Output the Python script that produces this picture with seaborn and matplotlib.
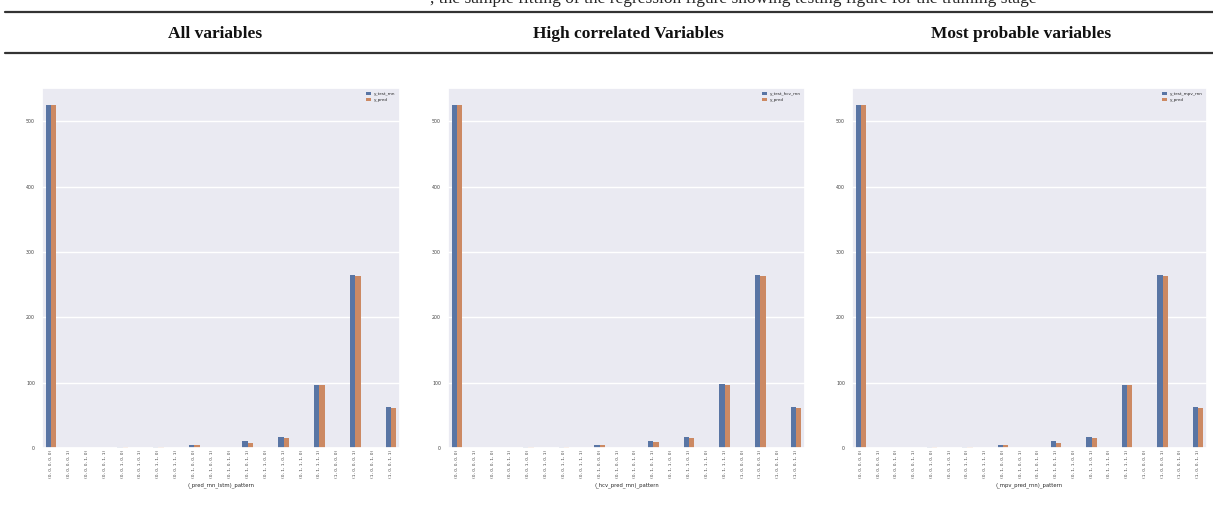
import matplotlib
matplotlib.use("Agg")
import matplotlib.pyplot as plt
from matplotlib.lines import Line2D
import seaborn as sns
import pandas as pd

categories = [
    "(0, 0, 0, 0, 0)", "(0, 0, 0, 0, 1)", "(0, 0, 0, 1, 0)", "(0, 0, 0, 1, 1)",
    "(0, 0, 1, 0, 0)", "(0, 0, 1, 0, 1)", "(0, 0, 1, 1, 0)", "(0, 0, 1, 1, 1)",
    "(0, 1, 0, 0, 0)", "(0, 1, 0, 0, 1)", "(0, 1, 0, 1, 0)", "(0, 1, 0, 1, 1)",
    "(0, 1, 1, 0, 0)", "(0, 1, 1, 0, 1)", "(0, 1, 1, 1, 0)", "(0, 1, 1, 1, 1)",
    "(1, 0, 0, 0, 0)", "(1, 0, 0, 0, 1)", "(1, 0, 0, 1, 0)", "(1, 0, 0, 1, 1)",
]

panel_titles = ["All variables", "High correlated Variables", "Most probable variables"]
x_labels = ["(_pred_rnn_lstm)_pattern", "(_hcv_pred_rnn)_pattern", "(_mpv_pred_rnn)_pattern"]
series_a_names = ["y_test_rnn", "y_test_hcv_rnn", "y_test_mpv_rnn"]
series_b_names = ["y_pred", "y_pred", "y_pred"]

all_a = [525, 0, 0, 0, 1, 0, 2, 0, 5, 0, 0, 10, 0, 17, 0, 97, 0, 265, 0, 63]
all_b = [525, 0, 0, 0, 1, 0, 1, 0, 4, 0, 0, 8, 0, 16, 0, 96, 0, 264, 0, 62]
hcv_a = [525, 0, 0, 0, 1, 0, 2, 0, 5, 0, 0, 10, 0, 17, 0, 98, 0, 265, 0, 63]
hcv_b = [525, 0, 0, 0, 1, 0, 1, 0, 4, 0, 0, 9, 0, 16, 0, 97, 0, 264, 0, 62]
mpv_a = [525, 0, 0, 0, 1, 0, 2, 0, 5, 0, 0, 10, 0, 17, 0, 97, 0, 265, 0, 63]
mpv_b = [525, 0, 0, 0, 1, 0, 1, 0, 4, 0, 0, 8, 0, 16, 0, 96, 0, 264, 0, 62]

y_ticks = [0, 100, 200, 300, 400, 500]

sns.set_theme(style="darkgrid")
plt.rcParams["font.family"] = ["DejaVu Sans"]

W, H = 1213, 512
fig = plt.figure(figsize=(W / 100, H / 100), dpi=100)
fig.patch.set_facecolor("white")

# caption fragment (cut off at the top, as in the source page) and table rules
fig.text(430 / W, 1.0 + 9 / H,
         ", the sample fitting of the regression figure showing testing figure for the training stage",
         ha="left", va="top", fontsize=12.5, family="Liberation Serif", clip_on=False)
fig.add_artist(Line2D([5 / W, 1.0], [1 - 12 / H, 1 - 12 / H], color="#333333", lw=1.6))
fig.add_artist(Line2D([5 / W, 1.0], [1 - 53 / H, 1 - 53 / H], color="#333333", lw=1.6))

title_x = [215, 628, 1021]
for tx, t in zip(title_x, panel_titles):
    fig.text(tx / W, 1 - 34 / H, t, ha="center", va="center", fontsize=12.5,
             fontweight="bold", family="Liberation Serif", color="#111111")

rects = [(42, 358), (448, 357), (852, 355)]
data_pairs = [(all_a, all_b), (hcv_a, hcv_b), (mpv_a, mpv_b)]
top_px, bot_px = 88, 448

for i, ((lx, wx), (va, vb)) in enumerate(zip(rects, data_pairs)):
    ax = fig.add_axes([lx / W, (H - bot_px) / H, wx / W, (bot_px - top_px) / H])
    df = pd.DataFrame({
        "pattern": categories * 2,
        "count": va + vb,
        "series": [series_a_names[i]] * len(categories) + [series_b_names[i]] * len(categories),
    })
    sns.barplot(data=df, x="pattern", y="count", hue="series", ax=ax,
                width=0.6, palette=["#4C72B0", "#DD8452"], linewidth=0)
    ax.set_yticks(y_ticks)
    ax.tick_params(axis="x", labelsize=3.2, rotation=90, pad=1.5, length=0, labelcolor="#444444")
    ax.tick_params(axis="y", labelsize=3.4, pad=5, length=0, labelcolor="#444444")
    ax.set_xlabel(x_labels[i], fontsize=3.8, labelpad=3)
    ax.set_ylabel("")
    ax.legend(loc="upper right", fontsize=3, frameon=False,
              handlelength=1.2, handleheight=0.6, borderaxespad=0.6)

fig.savefig("out.png", dpi=100, facecolor="white")
